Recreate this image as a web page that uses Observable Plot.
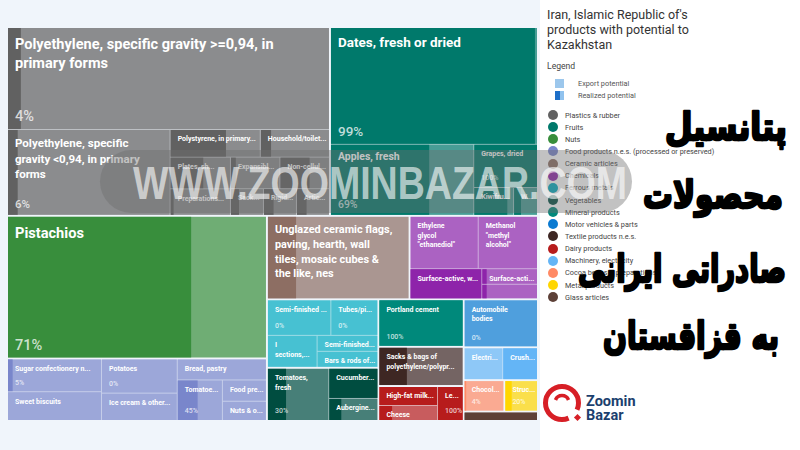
<!DOCTYPE html>
<html>
<head>
<meta charset="utf-8">
<script src="https://cdn.jsdelivr.net/npm/d3@7"></script>
<script src="https://cdn.jsdelivr.net/npm/@observablehq/plot@0.6"></script>
<style>
html,body{margin:0;padding:0;background:#fff;}
#wrap{position:relative;width:800px;height:450px;overflow:hidden;font-family:Roboto,"Noto Sans",sans-serif;}
#chart{position:absolute;left:0;top:0;width:540px;height:450px;background:#f0f5fb;}
#side{position:absolute;left:540px;top:0;width:260px;height:450px;background:#fff;color:#333;}
#title{position:absolute;left:7px;top:7px;font-size:12.5px;line-height:15px;color:#333;}
#lg{position:absolute;left:7px;top:60px;font-size:8.6px;line-height:12px;color:#444;}
.pot{position:absolute;left:15px;height:10px;display:flex;align-items:center;font-size:7.3px;color:#555;}
.sq{display:inline-block;width:9px;height:9px;margin-right:14px;}
#sectorLegend{position:absolute;left:8px;top:109px;}
.row{height:12.15px;display:flex;align-items:center;font-size:7.3px;color:#444;white-space:nowrap;}
.dot{width:10px;height:10px;border-radius:50%;margin-right:7px;flex:none;}
#overlay{position:absolute;left:0;top:0;pointer-events:none;}
</style>
</head>
<body>
<div id="wrap">
  <div id="chart"></div>
  <div id="side">
    <div id="title">Iran, Islamic Republic of's<br>products with potential to<br>Kazakhstan</div>
    <div id="lg">Legend</div>
    <div class="pot" style="top:78px"><span class="sq" style="background:#9cc7ec"></span>Export potential</div>
    <div class="pot" style="top:90px"><span class="sq" style="background:linear-gradient(90deg,#1e6fc8 0 55%,#90c2ee 55% 100%)"></span>Realized potential</div>
    <div id="sectorLegend"></div>
  </div>
  <svg id="overlay" width="800" height="450" viewBox="0 0 800 450">
    <rect x="100" y="150" width="532" height="63" rx="31.5" fill="rgba(110,110,110,0.42)"/>
    <text x="133" y="199" font-family="Liberation Sans, Arial, sans-serif" font-weight="bold" font-size="46" textLength="494" lengthAdjust="spacingAndGlyphs" fill="rgba(255,255,255,0.62)">WWW.ZOOMINBAZAR.COM</text>
    <g id="fa" font-family="DejaVu Sans" font-weight="bold" fill="#000" stroke="#000" stroke-width="2.6" stroke-linejoin="round" text-anchor="end" font-size="38">
      <text x="787" y="140" data-w="122">پتانسیل</text>
      <text x="783" y="208" data-w="140">محصولات</text>
      <text x="786" y="282" data-w="208">صادراتی ایرانی</text>
      <text x="779" y="349" data-w="176">به قزاقستان</text>
    </g>
    <g>
      <circle cx="562" cy="403" r="16.5" fill="none" stroke="#d71f26" stroke-width="5" stroke-dasharray="7 12 84.7 0"/>
      <path d="M555.5 400 A7 7 0 0 1 568.5 400" fill="none" stroke="#d71f26" stroke-width="3.5"/>
      <rect x="575" y="415" width="5" height="5" fill="#d71f26" transform="rotate(45 577.5 417.5)"/>
      <text x="586" y="406" font-family="Roboto" font-weight="bold" font-size="14.5" fill="#1c3f6e">Zoomin</text>
      <text x="586" y="419.5" font-family="Roboto" font-weight="bold" font-size="14.5" fill="#1c3f6e">Bazar</text>
    </g>
  </svg>
</div>
<script>
// ---- Data ----
const sectors = ["Plastics & rubber","Fruits","Nuts","Food products n.e.s. (processed or preserved)","Ceramic articles","Chemicals","Ferrous metals","Vegetables","Mineral products","Motor vehicles & parts","Textile products n.e.s.","Dairy products","Machinery, electricity","Cocoa beans & preparations","Metal products","Glass articles"];
const sectorColors = ["#616161","#00796b","#388e3c","#7986cb","#8d6e63","#8e24aa","#00acc1","#004d40","#00897b","#0b7ad1","#3e2723","#b71c1c","#64b5f6","#ff8a65","#ffd600","#5d4037"];

const productIds = ["P1","P2","P3","P4","P5","P6","P7","P8","P9","P10","P11","F1","F2","F3","F4","F5","N1","D1","D2","D3","D4","D5","D6","D7","D8","C1","H1","H2","H3","H4","H5","E1","E2","E3","E4","E5","V1","V2","V3","M1","A1","T1","Y1","Y2","Y3","L1","L2","K1","S1","G1"];
const productLabels = [
  "Polyethylene, specific gravity >=0,94, in\nprimary forms",
  "Polyethylene, specific\ngravity <0,94, in primary\nforms",
  "Polystyrene, in primary...","Household/toilet ...","Plates, sh...","Expansible ...","Non-cellular ...","Preparations a...","Sacks &...","Rigid ...","Artic...",
  "Dates, fresh or dried","Apples, fresh","Grapes, dried","Kiwifru...","Wate...",
  "Pistachios",
  "Sugar confectionery n...","Sweet biscuits","Potatoes","Ice cream & other...","Bread, pastry","Tomatoe...","Food prep...","Nuts & ot...",
  "Unglazed ceramic flags,\npaving, hearth, wall\ntiles, mosaic cubes &\nthe like, nes",
  "Ethylene\nglycol\n\"ethanediol\"","Methanol\n\"methyl\nalcohol\"","Surface-active, w...","Surface-active &...","",
  "Semi-finished ...","Tubes/pip...","I\nsections, o...","Semi-finished p...","Bars & rods of i...",
  "Tomatoes,\nfresh","Cucumber...","Aubergines...",
  "Portland cement","Automobile\nbodies","Sacks & bags of\npolyethylene/polypr...",
  "High-fat milk &...","Cheese","Le...",
  "Electric ...","Crushi...","Chocola...","Struct...",""
];
const exportPotential = [32000,13600,2430,1863,1860,1519,1519,1560,858,858,858, 23598,9940,2688,1080,648, 35814, 3036,2668,2555,2044,1848,1804,924,836, 11502, 3519,3060,2130,855,798, 2232,1656,1568,960,960, 3180,1470,1078, 3910,3450,3230, 1121,885,875, 1240,1116, 1240,1023,675];
const realizedShare = [0.04,0.06,0.62,0.15,0.55,0.10,0.60,0.05,0.25,0.30,0.30, 0.99,0.69,1,0.85,0.30, 0.71, 0.05,0,0,0,0,0.45,0,0, 0.20, 0,0,1,0.08,0.08, 0,0,0,0,0, 0.30,1,0.25, 1,0,0.33, 1,0.22,1, 0,1, 0.04,0.20,1];
const percentShownFor = ["P1","P2","F1","F2","F3","N1","D1","D3","D6","E1","E2","M1","A1","V1","Y3","K1","S1"];

// tiling structure (h = side by side, v = stacked)
const topTiling = ["v",
  ["h","Plastics & rubber","Fruits"],
  ["h",
    ["v","Nuts","Food products n.e.s. (processed or preserved)"],
    ["v",
      ["h","Ceramic articles","Chemicals"],
      ["h",
        ["v","Ferrous metals","Vegetables"],
        ["v","Mineral products","Textile products n.e.s.","Dairy products"],
        ["v","Motor vehicles & parts","Machinery, electricity",["h","Cocoa beans & preparations","Metal products"],"Glass articles"]]]]];
const sectorTiling = [
  ["v","P1",["h","P2",["v",["h","P3","P4"],["h",["v","P5","P8"],["v",["h","P6","P7"],["h","P9","P10","P11"]]]]]],
  ["v","F1",["h","F2",["v","F3",["h","F4","F5"]]]],
  ["v","N1"],
  ["h",["v","D1","D2"],["v","D3","D4"],["v","D5",["h","D6",["v","D7","D8"]]]],
  ["v","C1"],
  ["v",["h","H1","H2"],["h","H3",["v","H4","H5"]]],
  ["v",["h","E1","E2"],["h","E3",["v","E4","E5"]]],
  ["h","V1",["v","V2","V3"]],
  ["v","M1"],["v","A1"],["v","T1"],
  ["h",["v","Y1","Y2"],"Y3"],
  ["h","L1","L2"],["v","K1"],["v","S1"],["v","G1"]
];

// ---- build hierarchy ----
function buildProducts(spec, si) {
  if (typeof spec === "string") { const pi = productIds.indexOf(spec); return {pi, sector: si, value: exportPotential[pi]}; }
  const [dir, ...kids] = spec;
  return {dir, level: "sector", children: kids.map(k => buildProducts(k, si))};
}
function buildTop(spec) {
  if (typeof spec === "string") {
    const si = sectors.indexOf(spec);
    const n = buildProducts(sectorTiling[si], si);
    return {dir: n.dir, level: "sector", sector: si, isSector: true, children: n.children};
  }
  const [dir, ...kids] = spec;
  return {dir, level: "top", children: kids.map(buildTop)};
}
const root = d3.hierarchy(buildTop(topTiling)).sum(d => d.children ? 0 : d.value);
d3.treemap()
  .size([529, 392])
  .paddingInner(n => n.data.level === "top" ? 2 : 1)
  .tile((node, x0, y0, x1, y1) => (node.data.dir === "h" ? d3.treemapDice : d3.treemapSlice)(node, x0, y0, x1, y1))(root);

const leaves = root.leaves();
const sectorNodes = root.descendants().filter(d => d.data.isSector);

// ---- labels ----
const ctx = document.createElement("canvas").getContext("2d");
function fitText(t, fs, maxW) {
  ctx.font = `bold ${fs}px Roboto`;
  if (ctx.measureText(t).width <= maxW) return t;
  let s = t.replace(/\.\.\.$/, "");
  while (s.length > 1 && ctx.measureText(s + "...").width > maxW) s = s.slice(0, -1);
  return s.trimEnd() + "...";
}
const fontFor = d => Math.max(7, Math.min(14.6, -21.8 + 7.0 * Math.log(Math.sqrt((d.x1 - d.x0) * (d.y1 - d.y0)))));
const labelLines = [];
const pctLabels = [];
for (const d of leaves) {
  const label = productLabels[d.data.pi];
  const w = d.x1 - d.x0, h = d.y1 - d.y0;
  const fs = fontFor(d);
  const padX = 6.5;
  let lastBottom = d.y0;
  if (label && h >= 12 && w >= 16) {
    label.split("\n").forEach((line, i) => {
      const y = d.y0 + 2 + 0.55 * fs + i * 1.35 * fs;
      if (y + 0.75 * fs > d.y1 - 1) return;
      labelLines.push({x: d.x0 + padX, y, text: fitText(line, fs, w - padX - 2), fs});
      lastBottom = y + 0.75 * fs;
    });
  }
  if (percentShownFor.includes(productIds[d.data.pi])) {
    const base = d.y1 - (6 + 0.15 * fs);
    if (base - 0.71 * fs > lastBottom + 2) {
      pctLabels.push({x: d.x0 + padX, y: base - 0.71 * fs, text: Math.round(realizedShare[d.data.pi] * 100) + "%", fs});
    }
  }
}

const off = {dx: 8, dy: 28};
const chart = Plot.plot({
  width: 540, height: 450, margin: 0,
  x: {type: "identity", axis: null},
  y: {type: "identity", axis: null},
  color: {type: "identity"},
  style: {background: "transparent", fontFamily: "Roboto, sans-serif"},
  marks: [
    Plot.rect(sectorNodes, {x1: d => d.x0, x2: d => d.x1, y1: d => d.y0, y2: d => d.y1, fill: d => sectorColors[d.data.sector], fillOpacity: 0.35, ...off}),
    Plot.rect(leaves, {x1: d => d.x0, x2: d => d.x1, y1: d => d.y0, y2: d => d.y1, fill: d => sectorColors[d.data.sector], fillOpacity: 0.54, ...off}),
    Plot.rect(leaves.filter(d => realizedShare[d.data.pi] > 0), {x1: d => d.x0, x2: d => d.x0 + (d.x1 - d.x0) * realizedShare[d.data.pi], y1: d => d.y0, y2: d => d.y1, fill: d => sectorColors[d.data.sector], ...off}),
    Plot.text(labelLines, {x: "x", y: "y", text: "text", fontSize: d => d.fs, fill: "white", fontWeight: "bold", textAnchor: "start", lineAnchor: "top", ...off}),
    Plot.text(pctLabels, {x: "x", y: "y", text: "text", fontSize: d => d.fs, fill: "white", fillOpacity: 0.75, fontWeight: 500, textAnchor: "start", lineAnchor: "top", ...off})
  ]
});
document.getElementById("chart").appendChild(chart);

// ---- sector legend ----
const lgEl = document.getElementById("sectorLegend");
sectors.forEach((s, i) => {
  const row = document.createElement("div");
  row.className = "row";
  const dot = document.createElement("span");
  dot.className = "dot";
  dot.style.background = sectorColors[i];
  row.appendChild(dot);
  row.appendChild(document.createTextNode(s));
  lgEl.appendChild(row);
});

// ---- fit the Persian headline lines to their widths ----
document.querySelectorAll("#fa text").forEach(t => {
  const target = +t.dataset.w;
  const right = +t.getAttribute("x");
  const w = t.getComputedTextLength();
  const s = w > 0 ? target / w : 1;
  t.setAttribute("transform", `translate(${right},0) scale(${s},1) translate(${-right},0)`);
});
</script>
</body>
</html>
